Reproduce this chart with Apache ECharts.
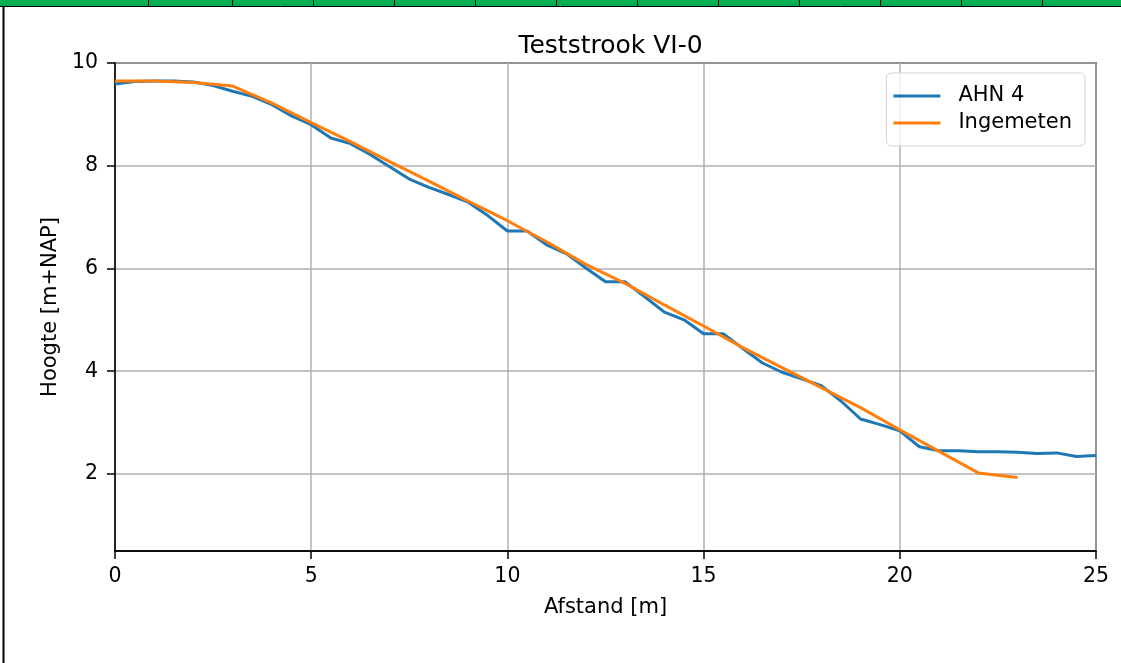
<!DOCTYPE html>
<html>
<head>
<meta charset="utf-8">
<script src="https://cdn.jsdelivr.net/npm/echarts@6/dist/echarts.min.js"></script>
<style>
html,body{margin:0;padding:0;background:#fff;}
#chart{width:1121px;height:663px;}
</style>
</head>
<body>
<div id="chart"></div>
<script>
const titleText = 'Teststrook VI-0';
const seriesNames = ['AHN 4', 'Ingemeten'];
const xTicks = [0, 5, 10, 15, 20, 25];
const yTicks = [2, 4, 6, 8, 10];

const ahnDist = [0, 0.5, 1, 1.5, 2, 2.5, 3, 3.5, 4, 4.5, 5, 5.5, 6, 6.5, 7, 7.5, 8, 8.5, 9, 9.5,
  10, 10.5, 11, 11.5, 12, 12.5, 13, 13.5, 14, 14.5, 15, 15.5, 16, 16.5, 17, 17.5, 18, 18.5, 19, 19.5,
  20, 20.5, 21, 21.5, 22, 22.5, 23, 23.5, 24, 24.5, 25];
const ahnHeight = [9.59, 9.64, 9.65, 9.65, 9.63, 9.56, 9.45, 9.35, 9.19, 8.97, 8.80, 8.54, 8.43, 8.22, 7.98, 7.74, 7.58, 7.44, 7.29, 7.03,
  6.73, 6.73, 6.46, 6.29, 6.01, 5.74, 5.74, 5.45, 5.15, 5.00, 4.73, 4.73, 4.44, 4.16, 3.98, 3.85, 3.72, 3.42, 3.07, 2.96,
  2.84, 2.53, 2.45, 2.45, 2.43, 2.43, 2.42, 2.40, 2.41, 2.34, 2.36];

const ingDist = [0, 1, 2, 3, 4, 5, 6, 7, 8, 9, 10, 11, 12, 13, 14, 15, 16, 17, 18, 19, 20, 21, 22, 23];
const ingHeight = [9.65, 9.65, 9.62, 9.55, 9.22, 8.84, 8.47, 8.08, 7.70, 7.31, 6.93, 6.52, 6.08, 5.71, 5.29, 4.88, 4.46, 4.07, 3.68, 3.29, 2.86, 2.44, 2.02, 1.93];

const headerLinesX = [148, 232, 313, 394, 475, 556, 637, 718, 799, 880, 961, 1042];

const font = 'DejaVu Sans';
const chart = echarts.init(document.getElementById('chart'), null, {renderer: 'canvas'});

const graphics = [
  {type: 'rect', shape: {x: 0, y: 0, width: 1121, height: 6}, style: {fill: '#00b050'}, silent: true},
  {type: 'line', shape: {x1: 0, y1: 6.5, x2: 1121, y2: 6.5}, style: {stroke: '#000', lineWidth: 1}, silent: true},
  {type: 'line', shape: {x1: 3.5, y1: 6, x2: 3.5, y2: 663}, style: {stroke: '#000', lineWidth: 2}, silent: true}
];
headerLinesX.forEach(function (x) {
  graphics.push({type: 'line', shape: {x1: x + 0.5, y1: 0, x2: x + 0.5, y2: 6}, style: {stroke: '#000', lineWidth: 1}, silent: true});
});

const option = {
  backgroundColor: '#fff',
  animation: false,
  title: {
    text: titleText,
    left: 605.5,
    textAlign: 'center',
    top: 29,
    textStyle: {fontFamily: font, fontSize: 25, fontWeight: 'normal', color: '#000'}
  },
  legend: {
    data: seriesNames,
    orient: 'vertical',
    align: 'left',
    right: 36,
    top: 73,
    icon: 'rect',
    itemWidth: 47,
    itemHeight: 3,
    itemGap: 5,
    padding: [12, 13, 12, 7],
    backgroundColor: 'rgba(255,255,255,0.8)',
    borderColor: '#d3d3d3',
    borderWidth: 1,
    borderRadius: 5,
    textStyle: {fontFamily: font, fontSize: 21, color: '#000', lineHeight: 22, padding: [0, 0, 0, 13]}
  },
  grid: {
    left: 115, right: 25, top: 63, bottom: 112,
    show: true, borderColor: '#000', borderWidth: 1.5, backgroundColor: 'transparent'
  },
  xAxis: {
    type: 'value',
    min: 0, max: 25,
    name: 'Afstand [m]',
    nameLocation: 'middle',
    nameGap: 46,
    nameTextStyle: {fontFamily: font, fontSize: 21, color: '#000'},
    axisLine: {show: true, lineStyle: {color: '#000', width: 1.5}},
    axisTick: {show: true, length: 8, lineStyle: {color: '#000', width: 1.5}, customValues: xTicks},
    axisLabel: {fontFamily: font, fontSize: 20.5, color: '#000', margin: 15, customValues: xTicks},
    splitLine: {show: true, lineStyle: {color: '#b0b0b0', width: 1.5}}
  },
  yAxis: {
    type: 'value',
    min: 0.5, max: 10,
    name: 'Hoogte [m+NAP]',
    nameLocation: 'middle',
    nameGap: 54,
    nameRotate: 90,
    nameTextStyle: {fontFamily: font, fontSize: 21, color: '#000'},
    axisLine: {show: true, lineStyle: {color: '#000', width: 1.5}},
    axisTick: {show: true, length: 8, lineStyle: {color: '#000', width: 1.5}, customValues: yTicks},
    axisLabel: {fontFamily: font, fontSize: 20.5, color: '#000', margin: 17, customValues: yTicks},
    splitLine: {show: true, lineStyle: {color: '#b0b0b0', width: 1.5}}
  },
  series: [
    {
      name: seriesNames[0],
      type: 'line',
      data: ahnDist.map(function (d, i) { return [d, ahnHeight[i]]; }),
      showSymbol: false,
      symbol: 'none',
      color: '#1f77b4',
      lineStyle: {color: '#1f77b4', width: 3},
      z: 2
    },
    {
      name: seriesNames[1],
      type: 'line',
      data: ingDist.map(function (d, i) { return [d, ingHeight[i]]; }),
      showSymbol: false,
      symbol: 'none',
      color: '#ff7f0e',
      lineStyle: {color: '#ff7f0e', width: 3},
      z: 3
    }
  ],
  graphic: graphics
};
chart.setOption(option);
</script>
</body>
</html>
